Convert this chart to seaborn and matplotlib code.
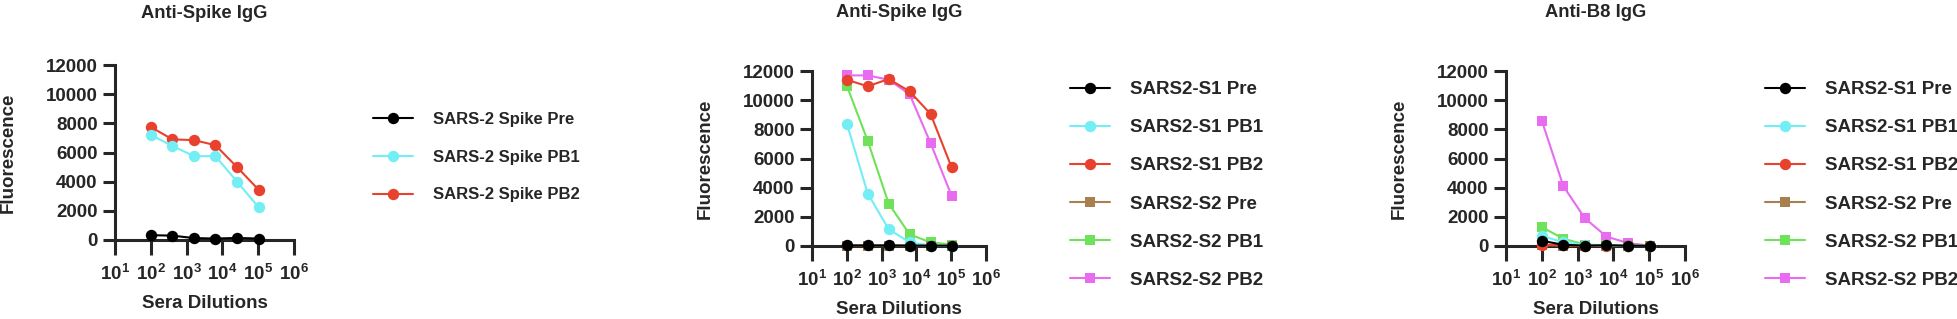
import numpy as np
import pandas as pd
import matplotlib
matplotlib.use('Agg')
import matplotlib.pyplot as plt
import seaborn as sns
from matplotlib.ticker import FixedLocator, FixedFormatter, LogLocator, NullFormatter

# dilution series (4-fold from 1:100)
dilutions = [100, 400, 1600, 6400, 25600, 102400]

x_tick_values = [1e1, 1e2, 1e3, 1e4, 1e5, 1e6]
x_tick_labels = [r'$\mathbf{10^{1}}$', r'$\mathbf{10^{2}}$', r'$\mathbf{10^{3}}$',
                 r'$\mathbf{10^{4}}$', r'$\mathbf{10^{5}}$', r'$\mathbf{10^{6}}$']
y_tick_values = [0, 2000, 4000, 6000, 8000, 10000, 12000]

titles = ['Anti-Spike IgG', 'Anti-Spike IgG', 'Anti-B8 IgG']

# panel 1 - anti-spike, whole spike
p1_labels = ['SARS-2 Spike Pre', 'SARS-2 Spike PB1', 'SARS-2 Spike PB2']
p1_pre = [330, 300, 130, 100, 140, 100]
p1_pb1 = [7200, 6450, 5750, 5750, 4000, 2250]
p1_pb2 = [7750, 6900, 6850, 6500, 5000, 3450]

# panel 2 - anti-spike, S1 / S2 immunised
p2_labels = ['SARS2-S1 Pre', 'SARS2-S1 PB1', 'SARS2-S1 PB2',
             'SARS2-S2 Pre', 'SARS2-S2 PB1', 'SARS2-S2 PB2']
p2_s1_pre = [40, 40, 40, 30, 30, 20]
p2_s1_pb1 = [8400, 3600, 1150, 250, 30, 20]
p2_s1_pb2 = [11400, 10950, 11450, 10600, 9050, 5400]
p2_s2_pre = [30, 30, 30, 20, 20, 20]
p2_s2_pb1 = [11000, 7200, 2900, 800, 250, 100]
p2_s2_pb2 = [11700, 11700, 11400, 10400, 7050, 3450]

# panel 3 - anti-B8
p3_labels = p2_labels
p3_s1_pre = [360, 80, 30, 50, 20, 10]
p3_s1_pb1 = [700, 250, 80, 40, 20, 10]
p3_s1_pb2 = [100, 40, 20, 10, 10, 10]
p3_s2_pre = [60, 30, 20, 20, 10, 10]
p3_s2_pb1 = [1300, 500, 100, 50, 30, 20]
p3_s2_pb2 = [8600, 4100, 1900, 650, 200, 30]

colors = ['#000000', '#72EEF4', '#E8412D', '#A8804F', '#6FE25A', '#E86BF0']
markers = ['o', 'o', 'o', 's', 's', 's']
marker_sizes = [8.2, 8.2, 8.2, 7.2, 7.2, 7.2]

panels = [
    (p1_labels, [p1_pre, p1_pb1, p1_pb2]),
    (p2_labels, [p2_s1_pre, p2_s1_pb1, p2_s1_pb2, p2_s2_pre, p2_s2_pb1, p2_s2_pb2]),
    (p3_labels, [p3_s1_pre, p3_s1_pb1, p3_s1_pb2, p3_s2_pre, p3_s2_pb1, p3_s2_pb2]),
]

sns.set_style('ticks')
plt.rcParams['font.family'] = ['Liberation Sans', 'DejaVu Sans']
plt.rcParams['font.weight'] = 'bold'
plt.rcParams['mathtext.fontset'] = 'custom'
plt.rcParams['mathtext.bf'] = 'Liberation Sans:bold'
plt.rcParams['mathtext.rm'] = 'Liberation Sans:bold'

W, H = 1958, 319
fig = plt.figure(figsize=(W / 100, H / 100), dpi=100)

# axes boxes in pixels: left, right, top (12000), bottom (0)
boxes = [(115, 294, 65, 240), (812, 986, 71, 246), (1506, 1685, 71, 246)]
legend_pos = [(373, 157), (1070, 185), (1765, 185)]
legend_size = [12, 13.5, 13.5]
legend_spacing = [1.37, 1.12, 1.12]
title_pad = [34, 39, 39]
ylabel_x = [8, 705, 1399]

for i, ((labels, series), (l, r, t, b)) in enumerate(zip(panels, boxes)):
    ax = fig.add_axes([l / W, 1 - b / H, (r - l) / W, (b - t) / H])
    order = list(range(len(series)))[::-1]
    for k in order:
        sns.lineplot(x=dilutions, y=series[k], ax=ax, color=colors[k], marker=markers[k],
                     markersize=marker_sizes[k], markeredgewidth=0, linewidth=1.5,
                     label=labels[k], clip_on=False, zorder=3 + len(series) - k)
    ax.set_xscale('log')
    ax.set_xlim(10, 1e6)
    ax.set_ylim(0, 12000)
    ax.xaxis.set_major_locator(FixedLocator(x_tick_values))
    ax.xaxis.set_major_formatter(FixedFormatter(x_tick_labels))
    ax.xaxis.set_minor_locator(LogLocator(base=10, subs=np.arange(2, 10)))
    ax.xaxis.set_minor_formatter(NullFormatter())
    ax.set_yticks(y_tick_values)
    ax.set_yticklabels([str(v) for v in y_tick_values])
    sns.despine(ax=ax)
    for s in ['left', 'bottom']:
        ax.spines[s].set_linewidth(2.2)
    ax.tick_params(axis='x', which='major', length=11, width=2.2, labelsize=13.5, pad=6)
    ax.tick_params(axis='x', which='minor', length=6, width=1.6)
    ax.tick_params(axis='y', which='major', length=8.5, width=2.2, labelsize=13.5, pad=4)
    ax.set_xlabel('Sera Dilutions', fontsize=13.5, fontweight='bold', labelpad=8)
    ax.set_ylabel('')
    fig.text(ylabel_x[i] / W, 1 - ((t + b) / 2) / H, 'Fluorescence', rotation=90,
             ha='center', va='center', fontsize=13.5, fontweight='bold')
    ax.set_title(titles[i], fontsize=13.2, fontweight='bold', pad=title_pad[i])

    handles, labs = ax.get_legend_handles_labels()
    idx = [labs.index(n) for n in labels]
    lx, ly = legend_pos[i]
    ax.legend([handles[j] for j in idx], [labs[j] for j in idx],
              loc='center left', bbox_to_anchor=(lx / W, 1 - ly / H),
              bbox_transform=fig.transFigure, frameon=False,
              prop={'size': legend_size[i], 'weight': 'bold'}, handlelength=2.4 * 12 / legend_size[i],
              handletextpad=1.2 * 12 / legend_size[i], labelspacing=legend_spacing[i],
              borderpad=0, borderaxespad=0)

fig.savefig('out.png', dpi=100)
